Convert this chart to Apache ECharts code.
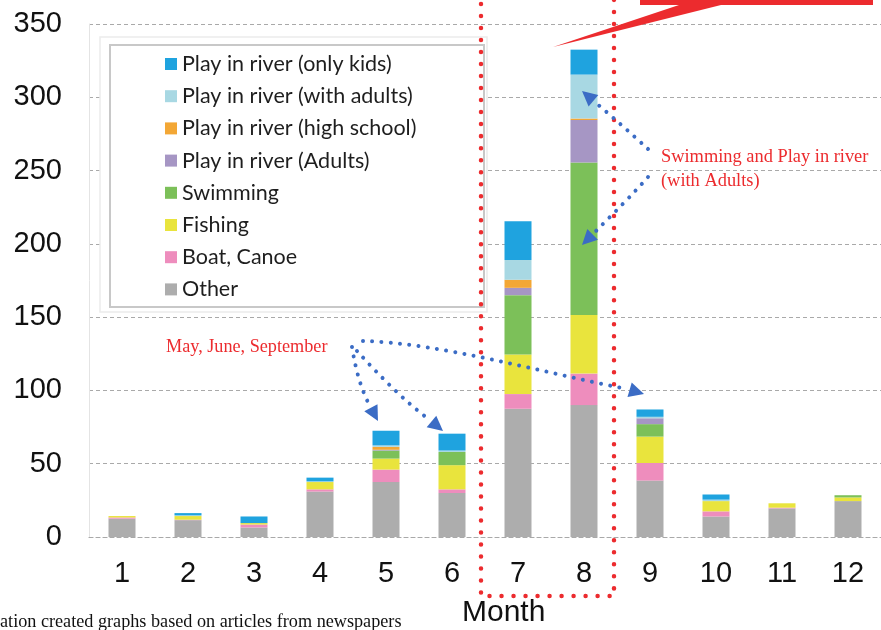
<!DOCTYPE html>
<html>
<head>
<meta charset="utf-8">
<script src="https://cdn.jsdelivr.net/npm/echarts@6/dist/echarts.min.js"></script>
<style>
  html, body { margin: 0; padding: 0; background: #fff; }
  #chart { width: 881px; height: 630px; }
</style>
</head>
<body>
<div id="chart"></div>
<script>
// months on the x axis
const months = ['1', '2', '3', '4', '5', '6', '7', '8', '9', '10', '11', '12']

// stacked values, bottom to top
const other      = [12.5, 11.5, 6.5, 31, 37.5, 30, 87.5, 90, 38.5, 14, 19.5, 24.5]
const boatCanoe  = [0.8, 0.3, 2, 1.5, 8.5, 2.5, 10, 21.5, 12, 3.5, 0.5, 0]
const fishing    = [1, 2.5, 1, 5, 7.5, 16.5, 27, 40, 18, 7, 3, 2.5]
const swimming   = [0, 0, 0, 0, 5.5, 9, 40.5, 104, 8.5, 0, 0, 1.5]
const adults     = [0, 0, 0, 0, 0.5, 0, 5, 29, 4, 0, 0, 0]
const highSchool = [0, 0, 0, 0, 2, 0, 5.5, 1, 0, 0, 0, 0]
const withAdults = [0, 0.5, 0, 0.5, 1, 1, 13.5, 30, 1, 1, 0, 0]
const onlyKids   = [0, 1.5, 4.5, 2.5, 10, 11.5, 26.5, 17, 5, 3.5, 0, 0]

const yTicks = [0, 50, 100, 150, 200, 250, 300, 350]

const seriesDefs = [
  { name: 'Other', data: other, color: '#adadad' },
  { name: 'Boat, Canoe', data: boatCanoe, color: '#ee8dbd' },
  { name: 'Fishing', data: fishing, color: '#e9e43d' },
  { name: 'Swimming', data: swimming, color: '#7cc059' },
  { name: 'Play in river (Adults)', data: adults, color: '#a696c4' },
  { name: 'Play in river (high school)', data: highSchool, color: '#f3a735' },
  { name: 'Play in river (with adults)', data: withAdults, color: '#a8d8e3' },
  { name: 'Play in river (only kids)', data: onlyKids, color: '#1fa3df' }
]

const BLUE = '#3b6cc5'
const RED = '#ec2b2e'

// triangle arrow head pointing at tip, coming from (fx, fy)
const arrowHead = (tx, ty, fx, fy, len = 15, half = 7.5) => {
  const dx = tx - fx, dy = ty - fy
  const d = Math.sqrt(dx * dx + dy * dy)
  const ux = dx / d, uy = dy / d
  const bx = tx - ux * len, by = ty - uy * len
  return {
    type: 'polygon', z: 20,
    shape: { points: [[tx, ty], [bx - uy * half, by + ux * half], [bx + uy * half, by - ux * half]] },
    style: { fill: BLUE }
  }
}

const dottedCurve = (x1, y1, c1x, c1y, c2x, c2y, x2, y2) => ({
  type: 'bezierCurve', z: 20,
  shape: { x1, y1, cpx1: c1x, cpy1: c1y, cpx2: c2x, cpy2: c2y, x2, y2 },
  style: { stroke: BLUE, lineWidth: 4, lineDash: [0.01, 9.3], lineCap: 'round', fill: null }
})

const chart = echarts.init(document.getElementById('chart'))

chart.setOption({
  animation: false,
  backgroundColor: '#fff',
  grid: { left: 89, right: 0, top: 24, bottom: 93 },
  legend: {
    data: seriesDefs.map(s => s.name).reverse(),
    orient: 'vertical',
    left: 160,
    top: 48,
    itemWidth: 12,
    itemHeight: 12,
    itemGap: 10.2,
    icon: 'rect',
    z: 6,
    textStyle: { fontFamily: 'Lato', fontSize: 21.5, color: '#1e1e1e', lineHeight: 22 }
  },
  xAxis: {
    type: 'category',
    data: months,
    axisTick: { show: false },
    axisLine: { lineStyle: { color: '#a9a9a9', type: [4, 3], width: 1.2 } },
    axisLabel: { fontFamily: 'Liberation Sans', fontSize: 29, color: '#111', margin: 22 }
  },
  yAxis: {
    type: 'value',
    min: 0,
    max: yTicks[yTicks.length - 1],
    interval: 50,
    axisLine: { show: true, lineStyle: { color: '#e4e4e4' } },
    axisTick: { show: false },
    axisLabel: { fontFamily: 'Liberation Sans', fontSize: 29, color: '#111', margin: 27 },
    splitLine: { lineStyle: { color: '#a9a9a9', type: [4, 3], width: 1.2 } }
  },
  series: seriesDefs.map(s => ({
    name: s.name,
    type: 'bar',
    stack: 'total',
    barWidth: 27,
    data: s.data,
    itemStyle: { color: s.color }
  })),
  graphic: [
    // legend frame
    { type: 'rect', z: 3, shape: { x: 100, y: 37, width: 387, height: 275 },
      style: { fill: '#fff', stroke: '#ececec', lineWidth: 1.5 } },
    { type: 'rect', z: 3, shape: { x: 110, y: 45, width: 374, height: 262 },
      style: { fill: '#fff', stroke: '#c8c8c8', lineWidth: 2 } },

    // red dotted box around July and August
    { type: 'polyline', z: 18,
      shape: { points: [[481, -8], [481, 596], [614, 596], [614, -8]] },
      style: { stroke: RED, lineWidth: 4.5, lineDash: [0.01, 12], lineCap: 'round', fill: null } },

    // red callout at the top
    { type: 'polygon', z: 18,
      shape: { points: [[640, 0], [873, 0], [873, 5], [721, 5], [553, 47], [679, 5], [640, 5]] },
      style: { fill: RED } },

    // blue dotted arrows (left group)
    dottedCurve(352, 347, 356, 372, 362, 392, 371, 408),
    arrowHead(378, 421, 371, 408),
    dottedCurve(357, 351, 378, 374, 405, 402, 430, 420),
    arrowHead(443, 431, 431, 421),
    dottedCurve(363, 341, 440, 343, 540, 372, 627, 389),
    arrowHead(644, 394, 627, 389),

    // blue dotted arrows (right group)
    dottedCurve(648, 149, 635, 137, 615, 119, 596, 103),
    arrowHead(582, 91, 595, 102),
    dottedCurve(648, 177, 635, 192, 612, 215, 594, 233),
    arrowHead(582, 245, 593, 234),

    // annotation texts
    { type: 'text', z: 20, left: 166, top: 338,
      style: { text: 'May, June, September', font: '18.2px "Liberation Serif"', fill: RED } },
    { type: 'text', z: 20, left: 661, top: 145,
      style: { text: 'Swimming and Play in river\n(with Adults)', font: '18.4px "Liberation Serif"', fill: RED, lineHeight: 24 } },

    // axis title and source note
    { type: 'text', z: 20, left: 462, top: 598,
      style: { text: 'Month', font: '30px "Liberation Sans"', fill: '#111' } },
    { type: 'text', z: 20, left: 0, top: 613,
      style: { text: 'ation created graphs based on articles from newspapers', font: '18.2px "Liberation Serif"', fill: '#111' } }
  ]
})
</script>
</body>
</html>
